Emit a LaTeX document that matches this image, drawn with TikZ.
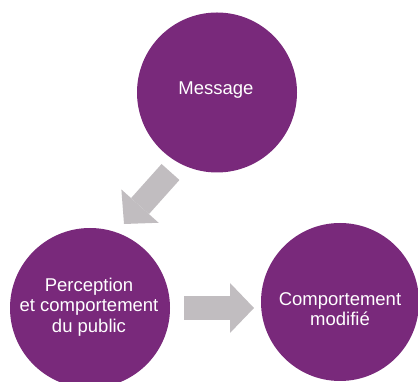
\documentclass[tikz,border=0pt]{standalone}
\usepackage{fontspec}
\setmainfont{Liberation Sans}
\usetikzlibrary{arrows.meta}
\definecolor{circpurple}{RGB}{121,41,123}
\definecolor{arrowgray}{RGB}{193,189,192}
\begin{document}
\begin{tikzpicture}[x=1pt,y=1pt,
  bubble/.style={circle, fill=circpurple, draw=none, minimum size=160pt, inner sep=0pt},
  bubbletext/.style={text=white, align=center, inner sep=0pt, anchor=base,
    font=\fontsize{18.5}{20.5}\selectfont},
  blockarrow/.style={draw=arrowgray, line width=24pt,
    -{Triangle[width=50pt,length=24pt,line width=0pt 0 0]}}]
\useasboundingbox (0,0) rectangle (418,382);
\node[bubble] (msg) at (217,289.5) {};
\node[bubble] (perc) at (90,74) {};
\node[bubble, minimum size=158pt] (comp) at (340,80) {};
\node[bubbletext] (msgt) at (216,287) {Message};
\node[bubbletext] (perct) at (89,49.5) {Perception\\et comportement\\du public};
\node[bubbletext] (compt) at (340,56) {Comportement\\modifié};
\coordinate (a1s) at (170.5,210);
\coordinate (a1e) at (124,158);
\coordinate (a2s) at (184,74);
\coordinate (a2e) at (254,74);
\draw[blockarrow] (a1s) -- (a1e);
\draw[blockarrow] (a2s) -- (a2e);
\end{tikzpicture}
\end{document}
